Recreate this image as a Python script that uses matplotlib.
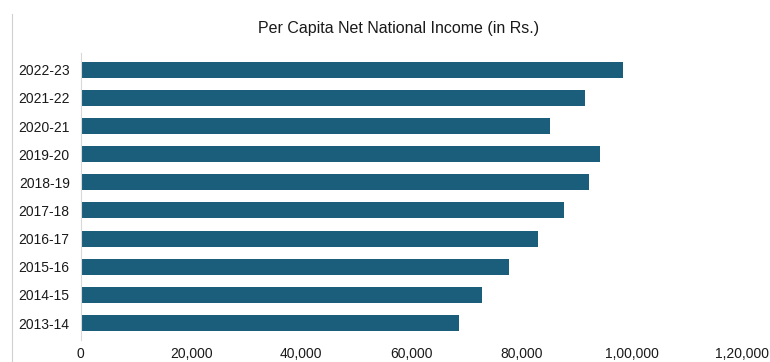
# Per capita net national income, horizontal bar chart
import matplotlib.pyplot as plt
from matplotlib.lines import Line2D

years = ["2013-14", "2014-15", "2015-16", "2016-17", "2017-18",
         "2018-19", "2019-20", "2020-21", "2021-22", "2022-23"]
income = [68572, 72805, 77659, 83003, 87586,
          92133, 94270, 85110, 91481, 98374]
xticks = [0, 20000, 40000, 60000, 80000, 100000, 120000]
xtick_labels = ["0", "20,000", "40,000", "60,000", "80,000", "1,00,000", "1,20,000"]

plt.rcParams["font.family"] = ["Liberation Sans", "DejaVu Sans"]

fig = plt.figure(figsize=(7.7, 3.62), dpi=100)
ax = fig.add_axes([0.105, 0.061, 0.859, 0.793])

ax.barh(range(len(years)), income, height=0.57, color="#1b5e7b")
ax.set_xlim(0, 120000)
ax.set_ylim(-0.6, len(years) - 0.4)

ax.set_yticks(range(len(years)))
ax.set_yticklabels(years, fontsize=10, color="#1a1a1a")
ax.set_xticks(xticks)
ax.set_xticklabels(xtick_labels, fontsize=10, color="#1a1a1a")
ax.tick_params(axis="both", length=0)
ax.tick_params(axis="y", pad=8)
ax.tick_params(axis="x", pad=5)

for side in ["top", "right", "bottom"]:
    ax.spines[side].set_visible(False)
ax.spines["left"].set_color("#d9d9d9")
ax.spines["left"].set_linewidth(0.8)

fig.text(0.518, 0.92, "Per Capita Net National Income (in Rs.)",
         ha="center", va="center", fontsize=11.5, color="#1a1a1a")

# outer frame edge on the left
fig.add_artist(Line2D([0.016, 0.016], [0.0, 0.96], color="#d0d0d0", lw=0.8))

fig.savefig("out.png", dpi=100)
